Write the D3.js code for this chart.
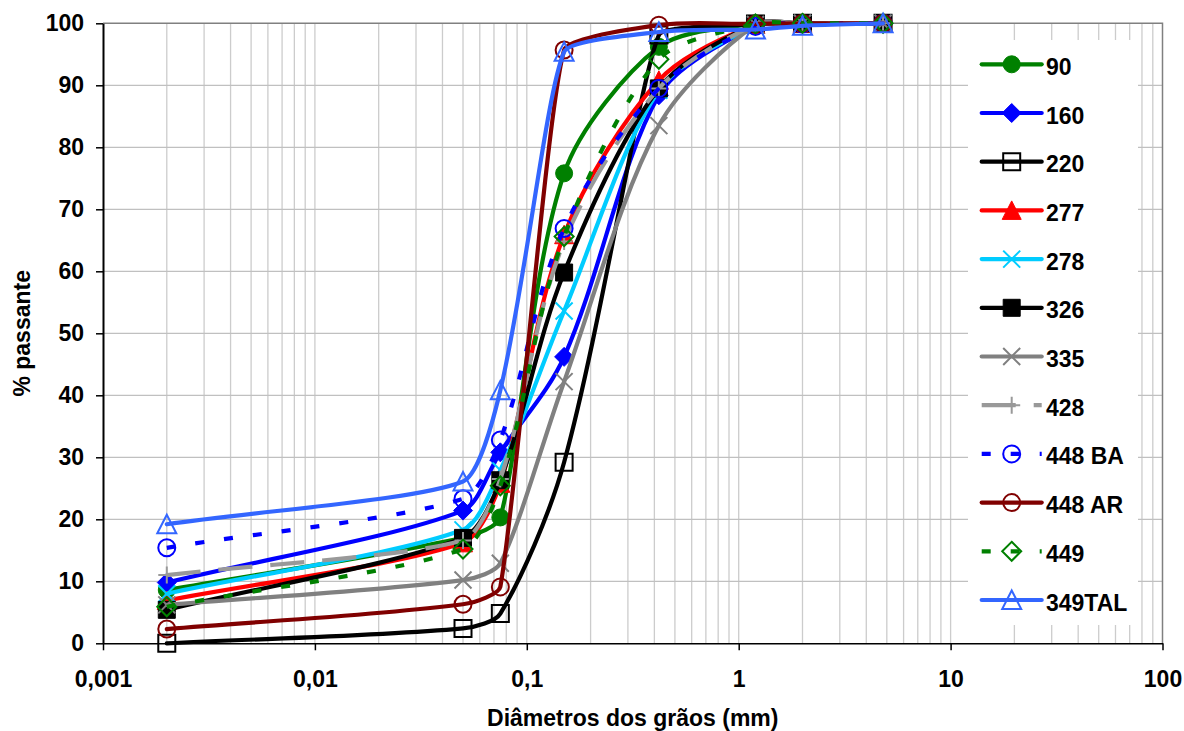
<!DOCTYPE html>
<html>
<head>
<meta charset="utf-8">
<script src="https://cdn.jsdelivr.net/npm/d3@7"></script>
<style>
  html, body { margin: 0; padding: 0; background: #fff; }
  svg { display: block; }
  text { font-family: "Liberation Sans", Arial, sans-serif; font-weight: bold; fill: #000; }
</style>
</head>
<body>
<svg id="chart" width="1184" height="731"></svg>
<script>
// Sieve / sedimentation diameters (mm)
const diameters = [0.002, 0.05, 0.075, 0.15, 0.42, 1.2, 2.0, 4.8];

// Percent passing for each sample
const s90     = [8.6, 17.0, 20.3, 75.8, 96.2, 100, 100, 100];
const s160    = [9.8, 21.4, 30.8, 46.2, 88.4, 99.6, 100, 100];
const s220    = [0.0, 2.4, 4.8, 29.2, 98.1, 99.9, 100, 100];
const s277    = [6.9, 16.2, 25.8, 65.9, 90.8, 99.8, 100, 100];
const s278    = [8.0, 18.3, 27.9, 53.6, 89.2, 99.6, 100, 100];
const s326    = [5.4, 17.0, 26.3, 59.8, 89.5, 99.9, 100, 100];
const s335    = [6.2, 10.2, 12.9, 42.2, 83.5, 99.8, 100, 100];
const s428    = [11.0, 16.6, 26.5, 64.8, 89.5, 99.8, 100, 100];
const s448BA  = [15.4, 23.3, 32.8, 66.9, 89.5, 99.5, 99.9, 100];
const s448AR  = [2.3, 6.3, 9.1, 95.7, 99.7, 99.9, 100, 100];
const s449    = [5.9, 15.2, 25.4, 65.6, 94.2, 99.9, 100, 100];
const s349TAL = [19.2, 26.1, 40.8, 95.4, 98.6, 99.0, 99.6, 100];

const seriesNames = ["90", "160", "220", "277", "278", "326", "335", "428", "448 BA", "448 AR", "449", "349TAL"];
const seriesValues = [s90, s160, s220, s277, s278, s326, s335, s428, s448BA, s448AR, s449, s349TAL];

const xTickValues = [0.001, 0.01, 0.1, 1, 10, 100];
const xTickLabels = ["0,001", "0,01", "0,1", "1", "10", "100"];
const yTickValues = [0, 10, 20, 30, 40, 50, 60, 70, 80, 90, 100];

// Line / marker styling per sample
const styles = [
  { color: "#008000", dash: null,    marker: "circle",   fill: true  },
  { color: "#0000FF", dash: null,    marker: "diamond",  fill: true  },
  { color: "#000000", dash: null,    marker: "square",   fill: false },
  { color: "#FF0000", dash: null,    marker: "triangle", fill: true  },
  { color: "#00CCFF", dash: null,    marker: "x",        fill: false },
  { color: "#000000", dash: null,    marker: "square",   fill: true  },
  { color: "#808080", dash: null,    marker: "x",        fill: false },
  { color: "#999999", dash: "34,18", marker: "plus",     fill: false },
  { color: "#0000FF", dash: "9,20",  marker: "circle",   fill: false },
  { color: "#800000", dash: null,    marker: "circle",   fill: false },
  { color: "#008000", dash: "9,20",  marker: "diamond",  fill: false },
  { color: "#3366FF", dash: null,    marker: "triangle", fill: false }
];

const svg = d3.select("#chart");
const plotLeft = 103, plotRight = 1162.5, plotTop = 23.3, plotBottom = 643.3;

const x = d3.scaleLog().domain([0.001, 100]).range([plotLeft, plotRight]);
const y = d3.scaleLinear().domain([0, 100]).range([plotBottom, plotTop]);

// Gridlines
const grid = svg.append("g");
grid.selectAll("line.v")
  .data(x.ticks().filter(d => d > 0.001 && d < 100))
  .join("line")
  .attr("x1", d => x(d)).attr("x2", d => x(d))
  .attr("y1", plotTop).attr("y2", plotBottom)
  .attr("stroke", "#cccccc").attr("stroke-width", 1.3);
grid.selectAll("line.h")
  .data(yTickValues.filter(d => d > 0 && d < 100))
  .join("line")
  .attr("x1", plotLeft).attr("x2", plotRight)
  .attr("y1", d => y(d)).attr("y2", d => y(d))
  .attr("stroke", "#c0c0c0").attr("stroke-width", 1.3);
// Plot area border (top and right)
grid.append("path")
  .attr("d", `M${plotLeft},${y(100)}H${plotRight}V${plotBottom}`)
  .attr("fill", "none").attr("stroke", "#808080").attr("stroke-width", 1.5);

// Axes
const xAxis = d3.axisBottom(x)
  .tickValues(xTickValues)
  .tickFormat((d, i) => xTickLabels[i])
  .tickSize(7).tickSizeOuter(0).tickPadding(20);
const gx = svg.append("g").attr("transform", `translate(0,${plotBottom})`).call(xAxis);
gx.selectAll("text").style("font-size", "23px");
gx.selectAll("line, path").attr("stroke", "#000").attr("stroke-width", 1.5);

const yAxis = d3.axisLeft(y)
  .tickValues(yTickValues)
  .tickFormat(d3.format("d"))
  .tickSize(7).tickSizeOuter(0).tickPadding(12);
const gy = svg.append("g").attr("transform", `translate(${plotLeft},0)`).call(yAxis);
gy.selectAll("text").style("font-size", "23px");
gy.selectAll("line, path").attr("stroke", "#000").attr("stroke-width", 1.5);
gy.select("path.domain").attr("stroke-width", 2);

// Axis titles
svg.append("text")
  .attr("x", (plotLeft + plotRight) / 2).attr("y", 726)
  .attr("text-anchor", "middle").style("font-size", "23px")
  .text("Diâmetros dos grãos (mm)");
svg.append("text")
  .attr("transform", `translate(30,${(plotTop + plotBottom) / 2}) rotate(-90)`)
  .attr("text-anchor", "middle").style("font-size", "23px")
  .text("% passante");

// Marker shapes
function markerPath(type) {
  switch (type) {
    case "diamond":  return "M0,-9.5L9.5,0L0,9.5L-9.5,0Z";
    case "square":   return "M-8.5,-8.5H8.5V8.5H-8.5Z";
    case "triangle": return "M0,-9.5L9.5,9L-9.5,9Z";
    case "x":        return "M-8.5,-8.5L8.5,8.5M-8.5,8.5L8.5,-8.5";
    case "plus":     return "M-8.5,0H8.5M0,-8.5V8.5";
    default:         return null;
  }
}
function drawMarker(g, st, cx, cy) {
  let m;
  if (st.marker === "circle") {
    m = g.append("circle").attr("cx", cx).attr("cy", cy).attr("r", 8.5);
  } else {
    m = g.append("path").attr("d", markerPath(st.marker))
      .attr("transform", `translate(${cx},${cy})`);
  }
  const lineOnly = st.marker === "x" || st.marker === "plus";
  m.attr("fill", st.fill ? st.color : "none")
   .attr("stroke", st.color)
   .attr("stroke-width", lineOnly ? 2 : (st.fill ? 1 : 2));
}

// Smoothed polyline: cubic Bézier segments whose tangents follow the
// neighbouring points; control arms shrink where the line turns sharply.
function smoothPath(pts) {
  const n = pts.length;
  const sub = (a, b) => [a[0] - b[0], a[1] - b[1]];
  const len = v => Math.hypot(v[0], v[1]) || 1;
  const unit = v => { const l = len(v); return [v[0] / l, v[1] / l]; };
  const tangents = [], factors = [];
  for (let i = 0; i < n; i++) {
    const prev = pts[Math.max(0, i - 1)], next = pts[Math.min(n - 1, i + 1)];
    tangents.push(unit(sub(next, prev)));
    if (i === 0 || i === n - 1) { factors.push(1 / 3); continue; }
    const a = unit(sub(pts[i], prev)), b = unit(sub(next, pts[i]));
    const cos = a[0] * b[0] + a[1] * b[1];
    factors.push(Math.max(0, cos) / 3);
  }
  let d = `M${pts[0][0]},${pts[0][1]}`;
  for (let i = 0; i < n - 1; i++) {
    const p1 = pts[i], p2 = pts[i + 1];
    const seg = len(sub(p2, p1));
    const a1 = seg * factors[i], a2 = seg * factors[i + 1];
    const c1 = [p1[0] + tangents[i][0] * a1, p1[1] + tangents[i][1] * a1];
    const c2 = [p2[0] - tangents[i + 1][0] * a2, p2[1] - tangents[i + 1][1] * a2];
    d += `C${c1[0]},${c1[1]},${c2[0]},${c2[1]},${p2[0]},${p2[1]}`;
  }
  return d;
}

const plot = svg.append("g");
seriesValues.forEach((vals, i) => {
  const st = styles[i];
  const pts = diameters.map((d, j) => [x(d), y(vals[j])]);
  const g = plot.append("g");
  g.append("path")
    .attr("d", smoothPath(pts))
    .attr("fill", "none")
    .attr("stroke", st.color)
    .attr("stroke-width", 4.2)
    .attr("stroke-linejoin", "round")
    .attr("stroke-linecap", st.dash ? "butt" : "round")
    .attr("stroke-dasharray", st.dash);
  pts.forEach(p => drawMarker(g, st, p[0], p[1]));
});

// Legend
const lg = svg.append("g");
lg.append("rect")
  .attr("x", 968).attr("y", 40).attr("width", 170).attr("height", 585)
  .attr("fill", "#fff");
seriesNames.forEach((name, i) => {
  const st = styles[i];
  const cy = 64.3 + i * 48.7;
  const row = lg.append("g");
  row.append("line")
    .attr("x1", 981.7).attr("x2", 1041.7).attr("y1", cy).attr("y2", cy)
    .attr("stroke", st.color).attr("stroke-width", 4.2)
    .attr("stroke-linecap", st.dash ? "butt" : "round")
    .attr("stroke-dasharray", st.dash);
  drawMarker(row, st, 1011.7, cy);
  row.append("text")
    .attr("x", 1046).attr("y", cy + 10.5)
    .style("font-size", "23px")
    .text(name);
});
</script>
</body>
</html>
